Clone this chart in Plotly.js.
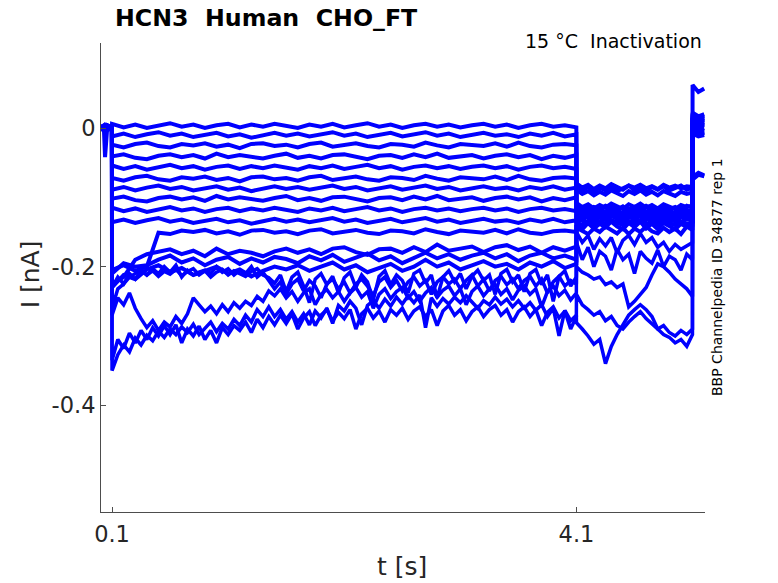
<!DOCTYPE html>
<html><head><meta charset="utf-8">
<script src="https://cdn.plot.ly/plotly-3.0.1.min.js"></script>
<style>html,body{margin:0;padding:0;background:#fff;} #chart{width:778px;height:583px;}</style>
</head><body><div id="chart"></div>
<script>
// time bases (s)
const tUpper = [0, 0.03, 0.04, 0.06, 0.099,
  0.1, 0.2, 0.3, 0.4, 0.5, 0.6, 0.7, 0.8, 0.9, 1.0,
  1.1, 1.2, 1.3, 1.4, 1.5, 1.6, 1.7, 1.8, 1.9, 2.0,
  2.1, 2.2, 2.3, 2.4, 2.5, 2.6, 2.7, 2.8, 2.9, 3.0,
  3.1, 3.2, 3.3, 3.4, 3.5, 3.6, 3.7, 3.8, 3.9, 4.0, 4.099,
  4.1, 4.15, 4.2, 4.25, 4.3, 4.35, 4.4, 4.45, 4.5, 4.55, 4.6, 4.65, 4.7, 4.75, 4.8, 4.85, 4.9, 4.95, 5.0, 5.05, 5.099,
  5.1, 5.15, 5.2];
const tLower = [0, 0.03, 0.04, 0.06, 0.099,
  0.1, 0.15, 0.2, 0.25, 0.3, 0.35, 0.4, 0.45, 0.5, 0.55,
  0.6, 0.65, 0.7, 0.75, 0.8, 0.85, 0.9, 0.95, 1.0, 1.05,
  1.1, 1.15, 1.2, 1.25, 1.3, 1.35, 1.4, 1.45, 1.5, 1.55,
  1.6, 1.65, 1.7, 1.75, 1.8, 1.85, 1.9, 1.95, 2.0, 2.05,
  2.1, 2.15, 2.2, 2.25, 2.3, 2.35, 2.4, 2.45, 2.5, 2.55,
  2.6, 2.65, 2.7, 2.75, 2.8, 2.85, 2.9, 2.95, 3.0, 3.05,
  3.1, 3.15, 3.2, 3.25, 3.3, 3.35, 3.4, 3.45, 3.5, 3.55,
  3.6, 3.65, 3.7, 3.75, 3.8, 3.85, 3.9, 3.95, 4.0, 4.05, 4.099,
  4.1, 4.15, 4.2, 4.25, 4.3, 4.35, 4.4, 4.45, 4.5, 4.55, 4.6, 4.65, 4.7, 4.75, 4.8, 4.85, 4.9, 4.95, 5.0, 5.05, 5.099,
  5.1, 5.15, 5.2];

// current sweeps (nA)
const sweep01 = [0.002, -0.001, -0.042, 0.004, 0.001,
  0.006, 0.001, 0.005, 0.000, 0.004, 0.007, 0.002, 0.005, 0.000, 0.004, 0.006, 0.001, 0.005, 0.002, 0.006, 0.003, 0.000, 0.005, 0.002, 0.006,
  0.001, 0.004, 0.007, 0.002, 0.005, 0.000, 0.004, 0.006, 0.002, 0.005, 0.001, 0.004, 0.006, 0.002, 0.005, 0.000, 0.004, 0.006, 0.002, 0.004, 0.001,
  -0.082, -0.090, -0.085, -0.092, -0.086, -0.090, -0.084, -0.091, -0.087, -0.083, -0.090, -0.086, -0.092, -0.085, -0.089, -0.084, -0.090, -0.087, -0.083, -0.089, -0.086,
  0.062, 0.052, 0.057];
const sweep02 = [0.000, 0.003, -0.002, 0.002, -0.001,
  -0.012, -0.008, -0.013, -0.009, -0.006, -0.011, -0.008, -0.013, -0.010, -0.007, -0.012, -0.009, -0.014, -0.010, -0.007, -0.011, -0.008, -0.012, -0.009, -0.006,
  -0.011, -0.008, -0.013, -0.010, -0.007, -0.012, -0.009, -0.006, -0.011, -0.008, -0.013, -0.010, -0.007, -0.011, -0.009, -0.013, -0.008, -0.011, -0.007, -0.012, -0.009,
  -0.115, -0.120, -0.114, -0.122, -0.117, -0.121, -0.113, -0.119, -0.123, -0.116, -0.120, -0.114, -0.121, -0.117, -0.122, -0.115, -0.119, -0.123, -0.116, -0.120, -0.118,
  0.018, 0.012, 0.015];
const sweep03 = [0.003, 0.000, 0.004, -0.001, 0.002,
  -0.024, -0.028, -0.023, -0.021, -0.026, -0.028, -0.023, -0.025, -0.022, -0.027, -0.024, -0.029, -0.023, -0.022, -0.026, -0.024, -0.028, -0.023, -0.021, -0.027,
  -0.025, -0.022, -0.026, -0.028, -0.023, -0.024, -0.027, -0.021, -0.025, -0.028, -0.023, -0.024, -0.026, -0.022, -0.027, -0.021, -0.026, -0.028, -0.024, -0.023, -0.025,
  -0.080, -0.086, -0.082, -0.088, -0.083, -0.087, -0.081, -0.085, -0.089, -0.083, -0.086, -0.082, -0.087, -0.084, -0.088, -0.082, -0.086, -0.083, -0.087, -0.084, -0.085,
  0.010, 0.006, 0.009];
const sweep04 = [-0.002, 0.002, -0.003, 0.001, -0.001,
  -0.041, -0.038, -0.043, -0.045, -0.040, -0.038, -0.042, -0.039, -0.044, -0.037, -0.042, -0.039, -0.041, -0.044, -0.040, -0.037, -0.043, -0.040, -0.044, -0.039,
  -0.038, -0.042, -0.045, -0.040, -0.039, -0.043, -0.038, -0.042, -0.037, -0.043, -0.041, -0.039, -0.044, -0.040, -0.038, -0.042, -0.039, -0.045, -0.040, -0.043, -0.039,
  -0.126, -0.132, -0.128, -0.134, -0.129, -0.133, -0.127, -0.131, -0.135, -0.128, -0.132, -0.127, -0.133, -0.129, -0.134, -0.128, -0.131, -0.135, -0.129, -0.132, -0.130,
  0.022, 0.017, 0.020];
const sweep05 = [0.001, -0.002, 0.003, 0.000, 0.002,
  -0.054, -0.059, -0.055, -0.060, -0.056, -0.053, -0.058, -0.055, -0.060, -0.056, -0.054, -0.059, -0.055, -0.058, -0.054, -0.057, -0.060, -0.055, -0.058, -0.054,
  -0.059, -0.056, -0.053, -0.058, -0.055, -0.060, -0.056, -0.054, -0.058, -0.055, -0.059, -0.056, -0.054, -0.058, -0.055, -0.060, -0.056, -0.054, -0.058, -0.056, -0.059,
  -0.108, -0.114, -0.110, -0.116, -0.111, -0.115, -0.109, -0.113, -0.117, -0.110, -0.114, -0.109, -0.115, -0.111, -0.116, -0.110, -0.113, -0.117, -0.111, -0.114, -0.112,
  0.006, 0.002, 0.004];
const sweep06 = [-0.001, 0.003, 0.000, 0.003, -0.002,
  -0.072, -0.076, -0.071, -0.069, -0.074, -0.076, -0.071, -0.073, -0.070, -0.075, -0.072, -0.077, -0.071, -0.070, -0.074, -0.072, -0.076, -0.071, -0.069, -0.075,
  -0.073, -0.070, -0.074, -0.076, -0.071, -0.072, -0.075, -0.069, -0.073, -0.076, -0.071, -0.072, -0.074, -0.070, -0.075, -0.069, -0.074, -0.076, -0.072, -0.071, -0.073,
  -0.089, -0.095, -0.091, -0.097, -0.092, -0.096, -0.090, -0.094, -0.098, -0.091, -0.095, -0.090, -0.096, -0.092, -0.097, -0.091, -0.094, -0.098, -0.092, -0.095, -0.093,
  0.014, 0.009, 0.012];
const sweep07 = [0.002, 0.000, 0.003, -0.002, 0.001,
  -0.089, -0.085, -0.090, -0.086, -0.083, -0.088, -0.085, -0.090, -0.087, -0.084, -0.089, -0.086, -0.091, -0.087, -0.084, -0.088, -0.085, -0.089, -0.086, -0.083,
  -0.088, -0.085, -0.090, -0.087, -0.084, -0.089, -0.086, -0.083, -0.088, -0.085, -0.090, -0.087, -0.084, -0.088, -0.086, -0.090, -0.085, -0.088, -0.084, -0.089, -0.086,
  -0.120, -0.126, -0.122, -0.128, -0.123, -0.127, -0.121, -0.125, -0.129, -0.122, -0.126, -0.121, -0.127, -0.123, -0.128, -0.122, -0.125, -0.129, -0.123, -0.126, -0.124,
  -0.003, -0.008, -0.005];
const sweep08 = [-0.003, 0.001, -0.002, 0.002, 0.000,
  -0.102, -0.099, -0.104, -0.106, -0.101, -0.099, -0.103, -0.100, -0.105, -0.098, -0.103, -0.100, -0.102, -0.105, -0.101, -0.098, -0.104, -0.101, -0.105, -0.100,
  -0.099, -0.103, -0.106, -0.101, -0.100, -0.104, -0.099, -0.103, -0.098, -0.104, -0.102, -0.100, -0.105, -0.101, -0.099, -0.103, -0.100, -0.106, -0.101, -0.104, -0.100,
  -0.136, -0.140, -0.134, -0.139, -0.135, -0.138, -0.133, -0.137, -0.140, -0.134, -0.138, -0.133, -0.139, -0.135, -0.140, -0.134, -0.137, -0.140, -0.135, -0.138, -0.136,
  0.020, 0.014, 0.018];
const sweep09 = [0.001, 0.004, -0.001, 0.003, -0.002,
  -0.115, -0.120, -0.116, -0.121, -0.117, -0.114, -0.119, -0.116, -0.121, -0.117, -0.115, -0.120, -0.116, -0.119, -0.115, -0.118, -0.121, -0.116, -0.119, -0.115,
  -0.120, -0.117, -0.114, -0.119, -0.116, -0.121, -0.117, -0.115, -0.119, -0.116, -0.120, -0.117, -0.115, -0.119, -0.116, -0.121, -0.117, -0.115, -0.119, -0.117, -0.120,
  -0.113, -0.116, -0.119, -0.114, -0.117, -0.112, -0.115, -0.118, -0.113, -0.119, -0.114, -0.117, -0.112, -0.116, -0.118, -0.113, -0.117, -0.114, -0.119, -0.112, -0.115,
  0.002, -0.003, 0.000];
const sweep10 = [0.000, -0.003, 0.002, -0.001, 0.003,
  -0.136, -0.132, -0.137, -0.133, -0.130, -0.135, -0.132, -0.137, -0.134, -0.131, -0.136, -0.133, -0.138, -0.134, -0.131, -0.135, -0.132, -0.136, -0.133, -0.130,
  -0.135, -0.132, -0.137, -0.134, -0.131, -0.136, -0.133, -0.130, -0.135, -0.132, -0.137, -0.134, -0.131, -0.135, -0.133, -0.137, -0.132, -0.135, -0.131, -0.136, -0.133,
  -0.128, -0.132, -0.126, -0.131, -0.127, -0.130, -0.125, -0.129, -0.132, -0.126, -0.130, -0.125, -0.131, -0.127, -0.132, -0.126, -0.129, -0.132, -0.127, -0.130, -0.128,
  -0.008, -0.012, -0.010];
const sweep11 = [0.003, -0.001, 0.002, 0.004, 0.000,
  -0.205, -0.198, -0.206, -0.200, -0.151, -0.153, -0.148, -0.150, -0.147, -0.152, -0.149, -0.154, -0.148, -0.147, -0.151, -0.149, -0.153, -0.148, -0.146, -0.152,
  -0.150, -0.147, -0.151, -0.153, -0.148, -0.149, -0.152, -0.146, -0.150, -0.153, -0.148, -0.149, -0.151, -0.147, -0.152, -0.146, -0.151, -0.153, -0.149, -0.148, -0.150,
  -0.121, -0.125, -0.119, -0.124, -0.120, -0.123, -0.118, -0.122, -0.125, -0.119, -0.123, -0.118, -0.124, -0.120, -0.125, -0.119, -0.122, -0.125, -0.120, -0.123, -0.121,
  0.008, 0.004, 0.007];
const sweep12 = [-0.001, 0.002, -0.004, 0.001, 0.002,
  -0.225, -0.215, -0.190, -0.182, -0.178, -0.175, -0.182, -0.177, -0.185, -0.174, -0.182, -0.177, -0.180, -0.185, -0.178, -0.174, -0.180, -0.175, -0.182, -0.174,
  -0.172, -0.179, -0.183, -0.175, -0.174, -0.180, -0.172, -0.179, -0.168, -0.177, -0.174, -0.171, -0.179, -0.172, -0.169, -0.176, -0.171, -0.180, -0.172, -0.177, -0.171,
  -0.131, -0.134, -0.137, -0.132, -0.135, -0.130, -0.133, -0.136, -0.131, -0.137, -0.132, -0.135, -0.130, -0.134, -0.136, -0.131, -0.135, -0.132, -0.137, -0.130, -0.133,
  0.016, 0.011, 0.014];
const sweep13 = [0.002, -0.002, 0.001, -0.003, 0.001,
  -0.210, -0.195, -0.200, -0.198, -0.190, -0.184, -0.194, -0.188, -0.198, -0.190, -0.186, -0.196, -0.188, -0.194, -0.186, -0.189, -0.195, -0.185, -0.191, -0.183,
  -0.193, -0.187, -0.181, -0.191, -0.185, -0.195, -0.187, -0.180, -0.188, -0.182, -0.190, -0.184, -0.180, -0.188, -0.182, -0.192, -0.184, -0.180, -0.188, -0.184, -0.190,
  -0.140, -0.146, -0.137, -0.145, -0.138, -0.143, -0.135, -0.142, -0.146, -0.137, -0.143, -0.135, -0.145, -0.138, -0.146, -0.137, -0.142, -0.146, -0.138, -0.143, -0.140,
  0.000, -0.004, -0.002];
const sweep14 = [-0.002, 0.001, 0.003, 0.000, -0.003,
  -0.230, -0.212, -0.218, -0.204, -0.198, -0.208, -0.202, -0.212, -0.206, -0.200, -0.210, -0.204, -0.214, -0.206, -0.200, -0.204, -0.198, -0.206, -0.200, -0.194,
  -0.204, -0.198, -0.208, -0.202, -0.196, -0.206, -0.200, -0.190, -0.200, -0.194, -0.204, -0.198, -0.192, -0.200, -0.196, -0.204, -0.194, -0.200, -0.192, -0.202, -0.196,
  -0.144, -0.149, -0.153, -0.145, -0.150, -0.142, -0.147, -0.152, -0.144, -0.153, -0.145, -0.150, -0.142, -0.149, -0.152, -0.144, -0.150, -0.145, -0.153, -0.142, -0.147,
  -0.005, -0.010, -0.007];
const sweep15 = [0.001, -0.003, 0.002, 0.000, 0.002,
  -0.350, -0.327, -0.313, -0.323, -0.303, -0.313, -0.299, -0.307, -0.293, -0.302,
  -0.290, -0.298, -0.287, -0.295, -0.283, -0.298, -0.289, -0.280, -0.294, -0.282,
  -0.290, -0.276, -0.285, -0.270, -0.280, -0.262, -0.272, -0.258, -0.272, -0.262,
  -0.276, -0.265, -0.280, -0.268, -0.284, -0.264, -0.274, -0.260, -0.282, -0.256,
  -0.264, -0.250, -0.260, -0.284, -0.256, -0.249, -0.260, -0.247, -0.257, -0.244,
  -0.254, -0.242, -0.252, -0.241, -0.288, -0.245, -0.257, -0.246, -0.254, -0.244,
  -0.252, -0.242, -0.251, -0.260, -0.249, -0.255, -0.244, -0.254, -0.247, -0.258,
  -0.249, -0.260, -0.252, -0.263, -0.255, -0.272, -0.260, -0.300, -0.263, -0.278, -0.270,
  -0.281, -0.290, -0.300, -0.312, -0.305, -0.340, -0.315, -0.298, -0.285, -0.270, -0.262, -0.255, -0.262, -0.272, -0.290, -0.298, -0.302, -0.310, -0.305, -0.315, -0.298,
  -0.075, -0.068, -0.070];
const sweep16 = [0.000, 0.002, -0.002, 0.003, -0.001,
  -0.270, -0.245, -0.255, -0.238, -0.260, -0.275, -0.288, -0.278, -0.292, -0.280,
  -0.287, -0.272, -0.282, -0.268, -0.245, -0.255, -0.265, -0.257, -0.268, -0.255,
  -0.265, -0.252, -0.260, -0.250, -0.256, -0.243, -0.250, -0.235, -0.242, -0.232,
  -0.245, -0.236, -0.250, -0.238, -0.232, -0.255, -0.240, -0.233, -0.245, -0.236,
  -0.250, -0.238, -0.230, -0.244, -0.236, -0.260, -0.240, -0.232, -0.246, -0.236,
  -0.230, -0.245, -0.236, -0.250, -0.238, -0.230, -0.244, -0.234, -0.228, -0.242,
  -0.232, -0.255, -0.236, -0.228, -0.242, -0.232, -0.226, -0.240, -0.232, -0.248,
  -0.234, -0.228, -0.240, -0.232, -0.258, -0.236, -0.228, -0.242, -0.234, -0.248, -0.238,
  -0.200, -0.208, -0.212, -0.218, -0.215, -0.226, -0.222, -0.230, -0.225, -0.258, -0.250, -0.240, -0.230, -0.212, -0.196, -0.200, -0.208, -0.218, -0.225, -0.232, -0.243,
  -0.072, -0.066, -0.069];
const sweep17 = [-0.001, 0.003, 0.000, -0.002, 0.001,
  -0.230, -0.215, -0.225, -0.210, -0.218, -0.205, -0.212, -0.203, -0.210, -0.200,
  -0.208, -0.198, -0.215, -0.205, -0.212, -0.208, -0.205, -0.210, -0.200, -0.208,
  -0.203, -0.212, -0.205, -0.210, -0.200, -0.215, -0.208, -0.220, -0.232, -0.222,
  -0.240, -0.225, -0.218, -0.235, -0.220, -0.228, -0.245, -0.225, -0.218, -0.232,
  -0.222, -0.238, -0.225, -0.218, -0.228, -0.242, -0.222, -0.215, -0.230, -0.220,
  -0.235, -0.222, -0.215, -0.228, -0.220, -0.240, -0.222, -0.215, -0.225, -0.218,
  -0.232, -0.220, -0.212, -0.228, -0.218, -0.235, -0.220, -0.214, -0.226, -0.218,
  -0.232, -0.220, -0.214, -0.228, -0.218, -0.238, -0.222, -0.214, -0.228, -0.220, -0.225,
  -0.150, -0.165, -0.155, -0.175, -0.160, -0.170, -0.158, -0.180, -0.162, -0.155, -0.168, -0.152, -0.165, -0.158, -0.172, -0.165, -0.178, -0.168, -0.175, -0.170, -0.165,
  0.005, 0.010, 0.008];
const sweep18 = [0.002, 0.000, -0.003, 0.001, -0.002,
  -0.260, -0.232, -0.225, -0.215, -0.210, -0.205, -0.212, -0.206, -0.214, -0.207,
  -0.211, -0.204, -0.213, -0.207, -0.203, -0.212, -0.206, -0.215, -0.208, -0.204,
  -0.212, -0.206, -0.210, -0.214, -0.207, -0.203, -0.212, -0.216, -0.224, -0.212,
  -0.236, -0.215, -0.208, -0.228, -0.252, -0.218, -0.210, -0.226, -0.214, -0.238,
  -0.216, -0.208, -0.230, -0.212, -0.222, -0.248, -0.214, -0.206, -0.226, -0.212,
  -0.220, -0.238, -0.210, -0.205, -0.224, -0.212, -0.245, -0.215, -0.206, -0.222,
  -0.210, -0.232, -0.214, -0.205, -0.220, -0.212, -0.240, -0.210, -0.204, -0.222,
  -0.212, -0.236, -0.210, -0.204, -0.226, -0.212, -0.250, -0.214, -0.206, -0.228, -0.215,
  -0.165, -0.190, -0.172, -0.200, -0.178, -0.185, -0.205, -0.175, -0.190, -0.182, -0.210, -0.178, -0.188, -0.195, -0.176, -0.200, -0.185, -0.190, -0.205, -0.182, -0.190,
  0.000, 0.004, 0.002];
const sweep19 = [-0.002, 0.002, 0.001, -0.001, 0.003,
  -0.335, -0.305, -0.318, -0.296, -0.310, -0.292, -0.305, -0.288, -0.300, -0.285,
  -0.298, -0.284, -0.310, -0.290, -0.300, -0.286, -0.305, -0.292, -0.310, -0.288,
  -0.298, -0.285, -0.292, -0.280, -0.295, -0.276, -0.288, -0.272, -0.284, -0.270,
  -0.282, -0.268, -0.290, -0.274, -0.265, -0.285, -0.270, -0.262, -0.278, -0.266,
  -0.275, -0.262, -0.290, -0.268, -0.260, -0.274, -0.264, -0.280, -0.262, -0.270,
  -0.260, -0.276, -0.264, -0.258, -0.272, -0.262, -0.285, -0.264, -0.256, -0.270,
  -0.262, -0.278, -0.265, -0.258, -0.272, -0.262, -0.256, -0.270, -0.262, -0.280,
  -0.265, -0.258, -0.272, -0.262, -0.285, -0.266, -0.258, -0.274, -0.264, -0.290, -0.272,
  -0.240, -0.255, -0.262, -0.270, -0.265, -0.278, -0.272, -0.285, -0.290, -0.280, -0.272, -0.265, -0.275, -0.282, -0.290, -0.285, -0.295, -0.300, -0.292, -0.298, -0.290,
  -0.070, -0.064, -0.068];

const xTickVals = [0.1, 4.1];
const xTickText = ['0.1', '4.1'];
const yTickVals = [0, -0.2, -0.4];
const yTickText = ['0', '-0.2', '-0.4'];

const titleText = 'HCN3\u00a0\u00a0Human\u00a0\u00a0CHO_FT';
const subtitleText = '15 \u00b0C\u00a0\u00a0Inactivation';
const sideText = 'BBP Channelpedia ID 34877 rep 1';

const upperSweeps = [sweep01, sweep02, sweep03, sweep04, sweep05, sweep06, sweep07,
  sweep08, sweep09, sweep10, sweep11, sweep12, sweep13, sweep14];
const lowerSweeps = [sweep15, sweep16, sweep17, sweep18, sweep19];

upperSweeps.forEach((s, i) => { if (s.length !== tUpper.length) console.error('upper sweep ' + (i + 1) + ' length ' + s.length); });
lowerSweeps.forEach((s, i) => { if (s.length !== tLower.length) console.error('lower sweep ' + (i + 1) + ' length ' + s.length); });

const traces = [];
upperSweeps.forEach(s => traces.push({x: tUpper, y: s, type: 'scatter', mode: 'lines', line: {color: '#0000ff', width: 4}, hoverinfo: 'skip'}));
lowerSweeps.forEach(s => traces.push({x: tLower, y: s, type: 'scatter', mode: 'lines', line: {color: '#0000ff', width: 3.5}, hoverinfo: 'skip'}));

const font = 'DejaVu Sans, Liberation Sans, sans-serif';
const axisCommon = {
  showgrid: false, zeroline: false, showline: true, linecolor: '#4d4d4d', linewidth: 1,
  ticks: 'inside', ticklen: 5, tickcolor: '#4d4d4d', tickwidth: 1,
  tickfont: {family: font, size: 22.5, color: '#262626'}, mirror: false, fixedrange: true
};
const layout = {
  width: 778, height: 583,
  margin: {l: 101, r: 73, t: 43, b: 71, pad: 0},
  paper_bgcolor: '#ffffff', plot_bgcolor: '#ffffff',
  showlegend: false,
  xaxis: Object.assign({}, axisCommon, {range: [0.005, 5.207], tickmode: 'array', tickvals: xTickVals, ticktext: xTickText, ticklabelstandoff: 2}),
  yaxis: Object.assign({}, axisCommon, {range: [-0.554, 0.1227], tickmode: 'array', tickvals: yTickVals, ticktext: yTickText, ticklabelstandoff: 0}),
  annotations: [
    {text: '<b>' + titleText + '</b>', xref: 'paper', yref: 'paper', x: 0.022, y: 1.054, xanchor: 'left', yanchor: 'middle', showarrow: false, borderpad: 0, font: {family: font, size: 23.7, color: '#000000'}},
    {text: subtitleText, xref: 'paper', yref: 'paper', x: 0.9972, y: 1.004, xanchor: 'right', yanchor: 'middle', showarrow: false, borderpad: 0, font: {family: font, size: 19, color: '#000000'}},
    {text: 't [s]', xref: 'paper', yref: 'paper', x: 0.4983, y: -0.117, xanchor: 'center', yanchor: 'middle', showarrow: false, borderpad: 0, font: {family: font, size: 25, color: '#262626'}},
    {text: 'I [nA]', textangle: -90, xref: 'paper', yref: 'paper', x: -0.1165, y: 0.506, xanchor: 'center', yanchor: 'middle', showarrow: false, borderpad: 0, font: {family: font, size: 25, color: '#262626'}},
    {text: sideText, textangle: -90, xref: 'paper', yref: 'paper', x: 1.0187, y: 0.5017, xanchor: 'center', yanchor: 'middle', showarrow: false, borderpad: 0, font: {family: font, size: 14, color: '#000000'}}
  ]
};
Plotly.newPlot('chart', traces, layout, {staticPlot: true, displayModeBar: false});
</script>
</body></html>
